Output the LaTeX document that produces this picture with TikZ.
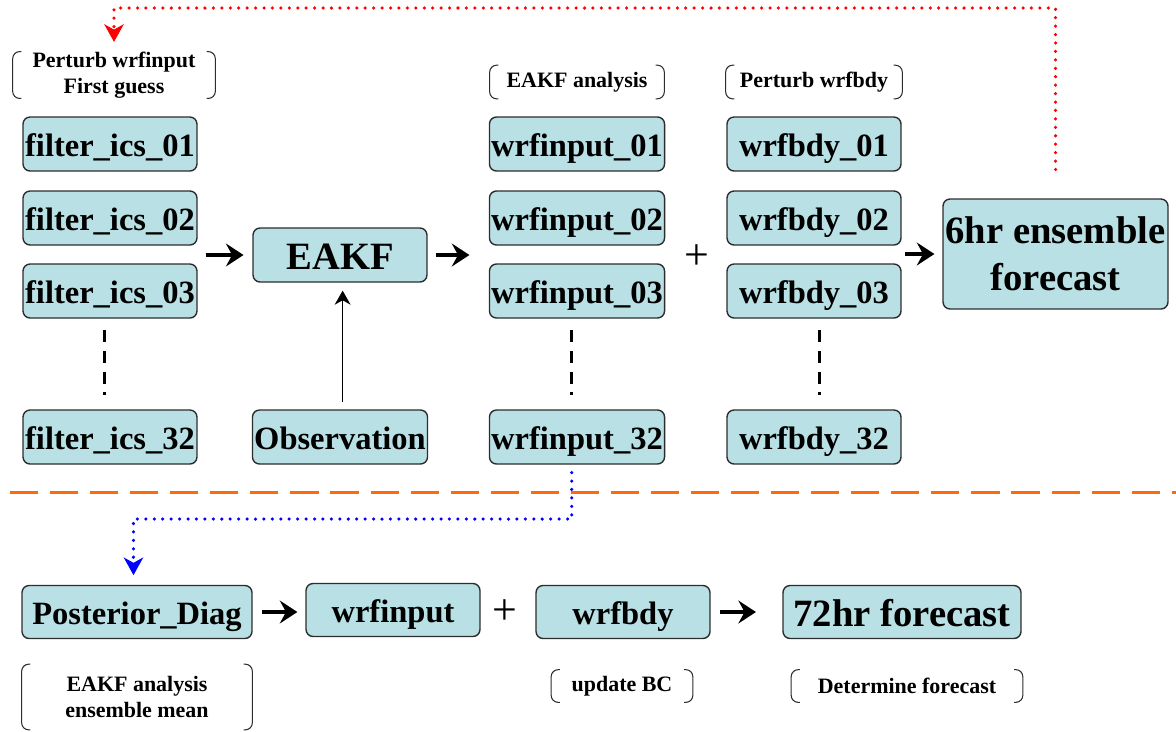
\documentclass[tikz,border=0pt]{standalone}
\usepackage{fontspec}
\setmainfont{Liberation Serif}
\usetikzlibrary{arrows.meta}

\definecolor{boxfill}{RGB}{185,224,228}
\definecolor{boxline}{RGB}{45,45,45}
\definecolor{sepline}{RGB}{255,105,10}

\tikzset{
  stagebase/.style={draw=boxline, line width=0.8pt, fill=boxfill, rounded corners=4pt,
    minimum width=3.48cm, minimum height=1.08cm, inner sep=1pt},
  stage/.style={stagebase, text height=14pt, text depth=0pt,
    font=\fontsize{18.5}{21}\selectfont\bfseries},
  bigstage/.style={stagebase, align=center, font=\fontsize{22}{26.5}\selectfont\bfseries},
  note/.style={align=center, inner sep=0pt, font=\fontsize{12.5}{14.7}\selectfont\bfseries},
  plus/.style={inner sep=0pt, font=\fontsize{25}{25}\selectfont},
  brkt/.style={draw=boxline, line width=0.6pt, rounded corners=4pt},
  flow/.style={line width=2.2pt, -{Stealth[length=10pt,width=13pt,inset=3.5pt]}},
  gap/.style={line width=1.7pt, dash pattern=on 6.8pt off 5pt},
  dotline/.style={line width=2pt, line cap=round, dash pattern=on 0pt off 4.8pt,
    -{Stealth[length=10pt,width=11pt,inset=3pt]}},
}

\begin{document}
\begin{tikzpicture}[x=0.02cm, y=-0.02cm]
\useasboundingbox (0,0) rectangle (1176,731);

% upper part: ensemble cycle
\node[stage] (f01) at (110,144) {filter\_ics\_01};
\node[stage] (f02) at (110,218) {filter\_ics\_02};
\node[stage] (f03) at (110,291) {filter\_ics\_03};
\node[stage] (f32) at (110,437) {filter\_ics\_32};

\node[stage, text height=16pt, font=\fontsize{22}{26}\selectfont\bfseries] (eakf) at (340,255) {EAKF};
\node[stage] (obs) at (340,437) {Observation};

\node[stage] (wi01) at (577,144) {wrfinput\_01};
\node[stage] (wi02) at (577,218) {wrfinput\_02};
\node[stage] (wi03) at (577,291) {wrfinput\_03};
\node[stage] (wi32) at (577,437) {wrfinput\_32};

\node[stage] (wb01) at (814,144) {wrfbdy\_01};
\node[stage] (wb02) at (814,218) {wrfbdy\_02};
\node[stage] (wb03) at (814,291) {wrfbdy\_03};
\node[stage] (wb32) at (814,437) {wrfbdy\_32};

\node[bigstage, minimum width=4.5cm, minimum height=2.2cm] (fc6) at (1055.5,254) {6hr ensemble\\forecast};

\node[plus] (plusA) at (697,257) {+};

% bracket notes
\node[note, minimum width=4.04cm, minimum height=0.92cm] (nA) at (114,75) {Perturb wrfinput\\First guess};
\node[note, minimum width=3.48cm, minimum height=0.66cm] (nB) at (577,82) {EAKF analysis};
\node[note, minimum width=3.52cm, minimum height=0.66cm] (nC) at (814,82) {Perturb wrfbdy};

% lower part: deterministic forecast
\node[stage, minimum width=4.6cm, minimum height=1.06cm] (post) at (137,612) {Posterior\_Diag};
\node[stage, minimum height=1.06cm] (wi) at (393,610) {wrfinput};
\node[plus] (plusB) at (505,612) {+};
\node[stage, minimum height=1.06cm] (wb) at (623,612) {wrfbdy};
\node[bigstage, minimum width=4.76cm, minimum height=1.06cm, text height=16pt, text depth=0pt] (fc72) at (902,612) {72hr forecast};

\node[note, minimum width=4.6cm, minimum height=1.3cm] (nD) at (137,697) {EAKF analysis\\ensemble mean};
\node[note, minimum width=2.82cm, minimum height=0.64cm] (nE) at (622,686) {update BC};
\node[note, minimum width=4.62cm, minimum height=0.64cm] (nF) at (907,686) {Determine forecast};

\foreach \n in {nA,nB,nC,nD,nE,nF}{
  \draw[brkt] ([xshift=5pt]\n.north west) -- (\n.north west) -- (\n.south west) -- ([xshift=5pt]\n.south west);
  \draw[brkt] ([xshift=-5pt]\n.north east) -- (\n.north east) -- (\n.south east) -- ([xshift=-5pt]\n.south east);
}

% member gaps
\draw[gap] ([xshift=-3pt,yshift=-6.5pt]f03.south) -- ([xshift=-3pt,yshift=8pt]f32.north);
\draw[gap] ([xshift=-3pt,yshift=-6.5pt]wi03.south) -- ([xshift=-3pt,yshift=8pt]wi32.north);
\draw[gap] ([xshift=3pt,yshift=-6.5pt]wb03.south) -- ([xshift=3pt,yshift=8pt]wb32.north);

% arrows
\draw[flow, shorten <=4.5pt, shorten >=5pt] (f02.east |- eakf.west) -- (eakf.west);
\draw[flow, shorten <=4.5pt, shorten >=11pt] (eakf.east) -- (eakf.east -| wi02.west);
\draw[flow, shorten <=2pt, shorten >=4.5pt] (wb02.east |- fc6.west) -- (fc6.west);
\draw[line width=0.8pt, -{Stealth[length=8pt,width=9pt,inset=2.5pt]}, shorten <=4pt, shorten >=4.5pt]
  ([xshift=1.5pt]obs.north) -- ([xshift=1.5pt]eakf.south);
\draw[flow, shorten <=5.5pt, shorten >=4.5pt] (post.east) -- (post.east -| wi.west);
\draw[flow, shorten <=5.5pt, shorten >=15pt] (wb.east) -- (fc72.west);

% cycling back and separator
\coordinate (loopy) at (0,8);
\draw[dotline, red] ([yshift=16.4pt]fc6.north) -- (fc6.north |- loopy) -| ([yshift=5.5pt]nA.north);

\coordinate (sepL) at (10,492);
\coordinate (sepR) at (1176,492);
\draw[sepline, line width=1.7pt, dash pattern=on 16pt off 6.8pt] (sepL) -- (sepR);

\coordinate (bendy) at (0,519);
\draw[dotline, blue] ([xshift=-3pt,yshift=-4.5pt]wi32.south) -- ([xshift=-3pt]wi32.south |- bendy) -| ([xshift=-2pt,yshift=5.5pt]post.north);

\end{tikzpicture}
\end{document}
